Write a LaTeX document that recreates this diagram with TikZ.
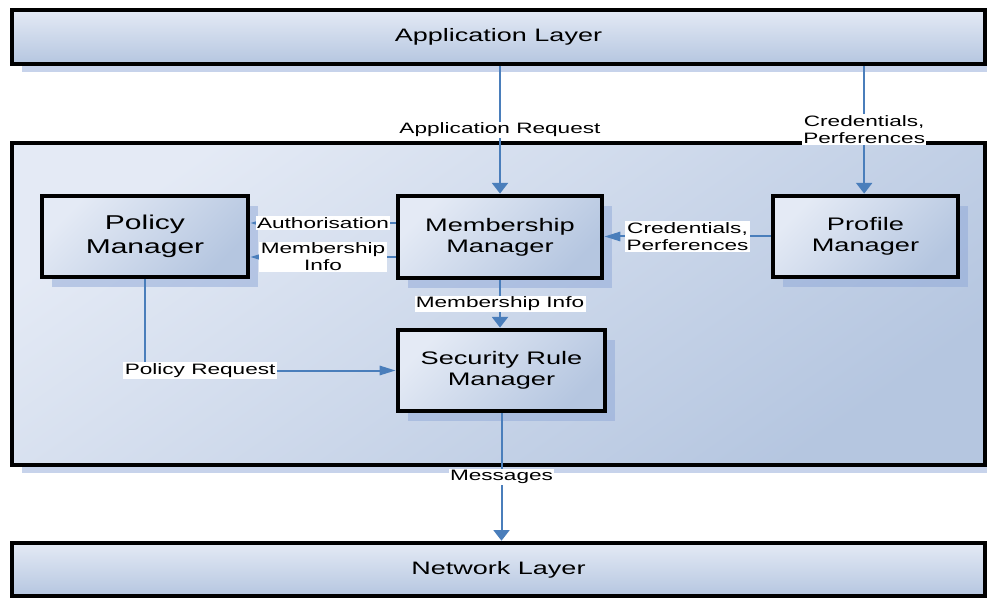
\documentclass[tikz,border=0pt]{standalone}
\usepackage{fontspec}
\setmainfont{Liberation Sans}[FakeStretch=1.5]
\usetikzlibrary{arrows.meta,shadows}

\definecolor{layerlight}{HTML}{E4EAF5}
\definecolor{layerdark}{HTML}{B5C6E0}
\definecolor{arrowblue}{HTML}{4A7EBB}
\definecolor{shadowblue}{HTML}{8FA8D8}

\begin{document}
\begin{tikzpicture}[x=0.75pt,y=-0.75pt,
    layer/.style={draw=black, line width=3.4pt, top color=layerlight, bottom color=layerdark,
        shading angle=0, minimum width=729.75pt, inner sep=0pt,
        font=\fontsize{13.5}{16}\selectfont,
        drop shadow={shadow xshift=7.5pt, shadow yshift=-6pt, fill=shadowblue, opacity=0.5}},
    manager/.style={draw=black, line width=3.6pt, top color=layerlight, bottom color=layerdark,
        shading angle=45, inner sep=0pt, align=center,
        font=\fontsize{13.6}{16}\selectfont,
        drop shadow={shadow xshift=7.5pt, shadow yshift=-7.5pt, fill=shadowblue, opacity=0.5}},
    lbl/.style={fill=white, inner sep=1pt, align=center, font=\fontsize{11.3}{12.9}\selectfont},
    flow/.style={draw=arrowblue, line width=1.5pt},
    down/.style={flow, -{Triangle[width=12pt,length=8pt]}},
    across/.style={flow, -{Triangle[width=7pt,length=12pt]}}]
    \useasboundingbox (0,0) rectangle (987,598);
    % layers
    \node[layer, minimum height=40.5pt] (app) at (498.5,37) {Application Layer};
    \node[layer, minimum height=241.5pt, shading angle=35] (core) at (498.5,304) {};
    \node[layer, minimum height=39.75pt] (net) at (498.5,569.5) {Network Layer};
    % managers
    \node[manager, minimum width=154.5pt, minimum height=60.75pt, font=\fontsize{15}{18}\selectfont] (policy) at (145,236.5) {Policy\\Manager};
    \node[manager, minimum width=153pt, minimum height=61.5pt] (member) at (500,237) {Membership\\Manager};
    \node[manager, minimum width=138.75pt, minimum height=60.75pt] (profile) at (865.5,236.5) {Profile\\Manager};
    \node[manager, minimum width=155.25pt, minimum height=60.75pt] (security) at (501.5,370.5) {Security Rule\\Manager};
    % flows
    \draw[down] (member.north |- app.south) -- node[lbl] {Application Request} (member.north);
    \draw[down] ([xshift=-1pt]profile.north |- app.south) -- node[lbl] {Credentials,\\Perferences} ([xshift=-1pt]profile.north);
    \draw[across] ([yshift=10.5pt]member.west) -- node[lbl] {Authorisation} ([yshift=10.5pt]member.west -| policy.east);
    \draw[across] ([yshift=-15pt]member.west) -- node[lbl] {Membership\\Info} ([yshift=-15pt]member.west -| policy.east);
    \draw[across] (profile.west) -- node[lbl] {Credentials,\\Perferences} (profile.west -| member.east);
    \draw[down] (member.south) -- node[lbl] {Membership Info} (member.south |- security.north);
    \draw[across] (policy.south) |- node[lbl, pos=0.61] {Policy Request} (security.west);
    \draw[down] (security.south) -- node[lbl] {Messages} (security.south |- net.north);
\end{tikzpicture}
\end{document}
